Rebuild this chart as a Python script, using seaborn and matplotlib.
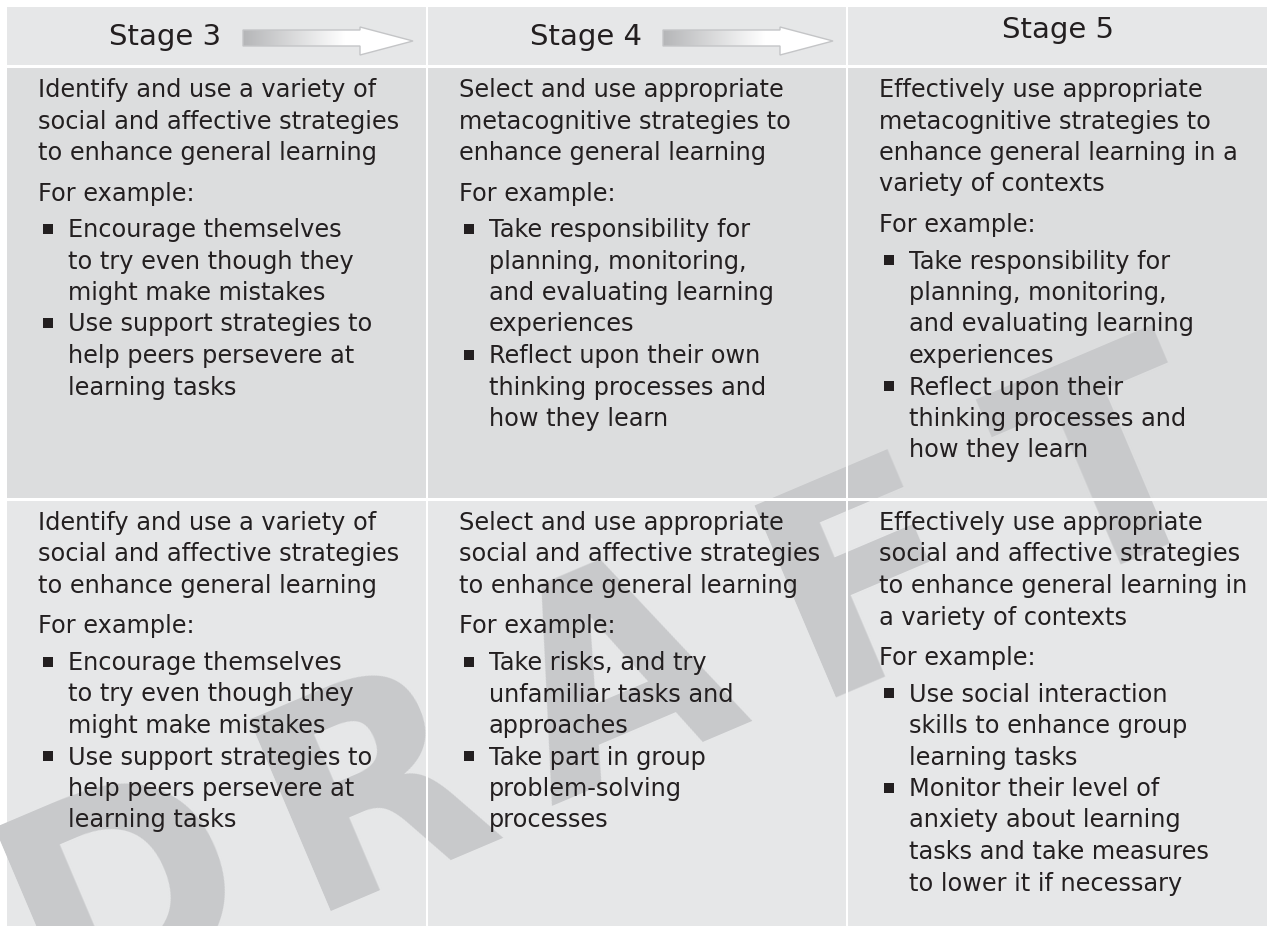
import numpy as np
import matplotlib
matplotlib.use('Agg')
import matplotlib.pyplot as plt
from matplotlib.patches import Rectangle, Polygon
import seaborn as sns

sns.set_theme(style='white')
plt.rcParams['font.family'] = ['DejaVu Sans']

# ---- content ----
stages = ['Stage 3', 'Stage 4', 'Stage 5']

intro_label = 'For example:'

row1_text = [
    ['Identify and use a variety of', 'social and affective strategies', 'to enhance general learning'],
    ['Select and use appropriate', 'metacognitive strategies to', 'enhance general learning'],
    ['Effectively use appropriate', 'metacognitive strategies to', 'enhance general learning in a', 'variety of contexts'],
]
row1_bullets = [
    [['Encourage themselves', 'to try even though they', 'might make mistakes'],
     ['Use support strategies to', 'help peers persevere at', 'learning tasks']],
    [['Take responsibility for', 'planning, monitoring,', 'and evaluating learning', 'experiences'],
     ['Reflect upon their own', 'thinking processes and', 'how they learn']],
    [['Take responsibility for', 'planning, monitoring,', 'and evaluating learning', 'experiences'],
     ['Reflect upon their', 'thinking processes and', 'how they learn']],
]

row2_text = [
    ['Identify and use a variety of', 'social and affective strategies', 'to enhance general learning'],
    ['Select and use appropriate', 'social and affective strategies', 'to enhance general learning'],
    ['Effectively use appropriate', 'social and affective strategies', 'to enhance general learning in', 'a variety of contexts'],
]
row2_bullets = [
    [['Encourage themselves', 'to try even though they', 'might make mistakes'],
     ['Use support strategies to', 'help peers persevere at', 'learning tasks']],
    [['Take risks, and try', 'unfamiliar tasks and', 'approaches'],
     ['Take part in group', 'problem-solving', 'processes']],
    [['Use social interaction', 'skills to enhance group', 'learning tasks'],
     ['Monitor their level of', 'anxiety about learning', 'tasks and take measures', 'to lower it if necessary']],
]

watermark = 'DRAFT'

# ---- layout (pixels) ----
W, H = 1267, 926
col_left = [7, 428, 848]
col_right = [426, 846, 1267]
head_top, head_bot = 7, 65
row_tops = [68, 501]
row_bots = [498, 926]

head_color = '#e6e7e8'
row_colors = ['#dcddde', '#e6e7e8']
text_color = '#231f20'
mark_color = '#c8c9cb'

fig = plt.figure(figsize=(W / 100, H / 100), dpi=100)
ax = fig.add_axes([0, 0, 1, 1])
ax.axis('off')
fig.patch.set_facecolor('white')

# backgrounds
for c in range(3):
    ax.add_patch(Rectangle((col_left[c], head_top), col_right[c] - col_left[c], head_bot - head_top,
                           facecolor=head_color, edgecolor='none', zorder=1))
    for r in range(2):
        ax.add_patch(Rectangle((col_left[c], row_tops[r]), col_right[c] - col_left[c], row_bots[r] - row_tops[r],
                               facecolor=row_colors[r], edgecolor='none', zorder=1))

# watermark, one letter at a time along a slanted line
angle = 23
step_wm = 268
d = np.deg2rad(angle)
for i, ch in enumerate(watermark):
    cx = 128 + i * step_wm * np.cos(d)
    cy = 900 - i * step_wm * np.sin(d)
    ax.text(cx, cy, ch, fontsize=205, fontweight='bold', color=mark_color,
            rotation=angle, rotation_mode='anchor', ha='center', va='center', zorder=2,
            clip_on=True)

# white separators drawn over the watermark
for x in [426, 846]:
    ax.add_patch(Rectangle((x, head_top), 2, H - head_top, facecolor='white', edgecolor='none', zorder=3))
for y in [65, 498]:
    ax.add_patch(Rectangle((col_left[0], y), W, 3, facecolor='white', edgecolor='none', zorder=3))

# header text and arrows
head_x = [165, 586, 1058]
head_base = [45, 45, 37.5]
for i, s in enumerate(stages):
    ax.text(head_x[i], head_base[i], s, fontsize=21, color=text_color, ha='center', va='baseline', zorder=5)

grad = np.linspace(0, 1, 256)
grad = np.clip(grad / 0.6, 0, 1).reshape(1, -1)
cmap = matplotlib.colors.LinearSegmentedColormap.from_list('arr', ['#b5b6b8', '#ffffff'])
for x0 in [243, 663]:
    pts = [(x0, 30), (x0 + 117, 30), (x0 + 117, 27), (x0 + 170, 41),
           (x0 + 117, 55), (x0 + 117, 46), (x0, 46)]
    poly = Polygon(pts, closed=True, facecolor='none', edgecolor='#c4c5c7', lw=1, zorder=5)
    ax.add_patch(poly)
    im = ax.imshow(grad, cmap=cmap, extent=(x0, x0 + 170, 56, 26), aspect='auto', zorder=4)
    im.set_clip_path(poly)

# cell text
fs = 17.3
step = 31.5
gap_before = 9
gap_after = 5
for r, (texts, bullets) in enumerate([(row1_text, row1_bullets), (row2_text, row2_bullets)]):
    for c in range(3):
        x = col_left[c] + 31
        y = row_tops[r] + 29
        for line in texts[c]:
            ax.text(x, y, line, fontsize=fs, color=text_color, ha='left', va='baseline', zorder=5)
            y += step
        y += gap_before
        ax.text(x, y, intro_label, fontsize=fs, color=text_color, ha='left', va='baseline', zorder=5)
        y += step + gap_after
        for b in bullets[c]:
            ax.add_patch(Rectangle((x + 5, y - 13.5), 10, 10, facecolor=text_color, edgecolor='none', zorder=5))
            for line in b:
                ax.text(x + 30, y, line, fontsize=fs, color=text_color, ha='left', va='baseline', zorder=5)
                y += step

ax.set_xlim(0, W)
ax.set_ylim(H, 0)
fig.savefig('out.png', dpi=100, facecolor='white')
